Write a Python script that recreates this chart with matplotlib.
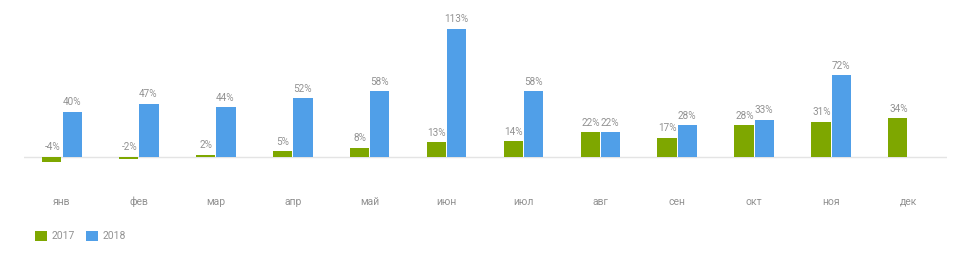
import matplotlib.pyplot as plt
import numpy as np

months = ["янв", "фев", "мар", "апр", "май", "июн",
          "июл", "авг", "сен", "окт", "ноя", "дек"]
vals_2017 = [-4, -2, 2, 5, 8, 13, 14, 22, 17, 28, 31, 34]
vals_2018 = [40, 47, 44, 52, 58, 113, 58, 22, 28, 33, 72, np.nan]

green = "#7ea700"
blue = "#509fe8"
grey = "#929292"
plt.rcParams["font.family"] = ["Roboto", "DejaVu Sans"]

W, H = 957, 263
fig = plt.figure(figsize=(W / 100, H / 100), dpi=100)
# axes placed in pixel terms: left 23.5, right 946.5, top 20, bottom 180
ax = fig.add_axes([23.5 / W, 1 - 180 / H, (946.5 - 23.5) / W, 160 / H])

x = np.arange(len(months))
bw = 0.25
ax.bar(x - bw / 2 - 0.008, vals_2017, bw, color=green, label="2017")
ax.bar(x + bw / 2 + 0.008, vals_2018, bw, color=blue, label="2018")

for i in range(len(months)):
    for off, v in ((-bw / 2, vals_2017[i]), (bw / 2, vals_2018[i])):
        if np.isnan(v):
            continue
        ax.text(x[i] + off, max(v, 0) + 4, f"{v:g}%", ha="center",
                va="bottom", fontsize=7.2, color=grey)

ax.axhline(0, xmin=0, xmax=1, color="#e4e4e4", lw=1, zorder=0)
ax.set_xlim(-0.5, 11.5)
ax.set_ylim(-20.3, 120.9)
ax.set_yticks([])
ax.set_xticks(x)
ax.set_xticklabels(months, fontsize=7.5, color=grey)
ax.tick_params(axis="x", length=0, pad=12)
for s in ax.spines.values():
    s.set_visible(False)

leg = fig.legend(loc="center left", bbox_to_anchor=(26 / W, 1 - 236 / H),
                 ncol=2, frameon=False, fontsize=7.5, handlelength=1.1,
                 handleheight=1.1, handletextpad=0.45, columnspacing=1.1)
for t in leg.get_texts():
    t.set_color(grey)

fig.savefig("out.png", dpi=100)
